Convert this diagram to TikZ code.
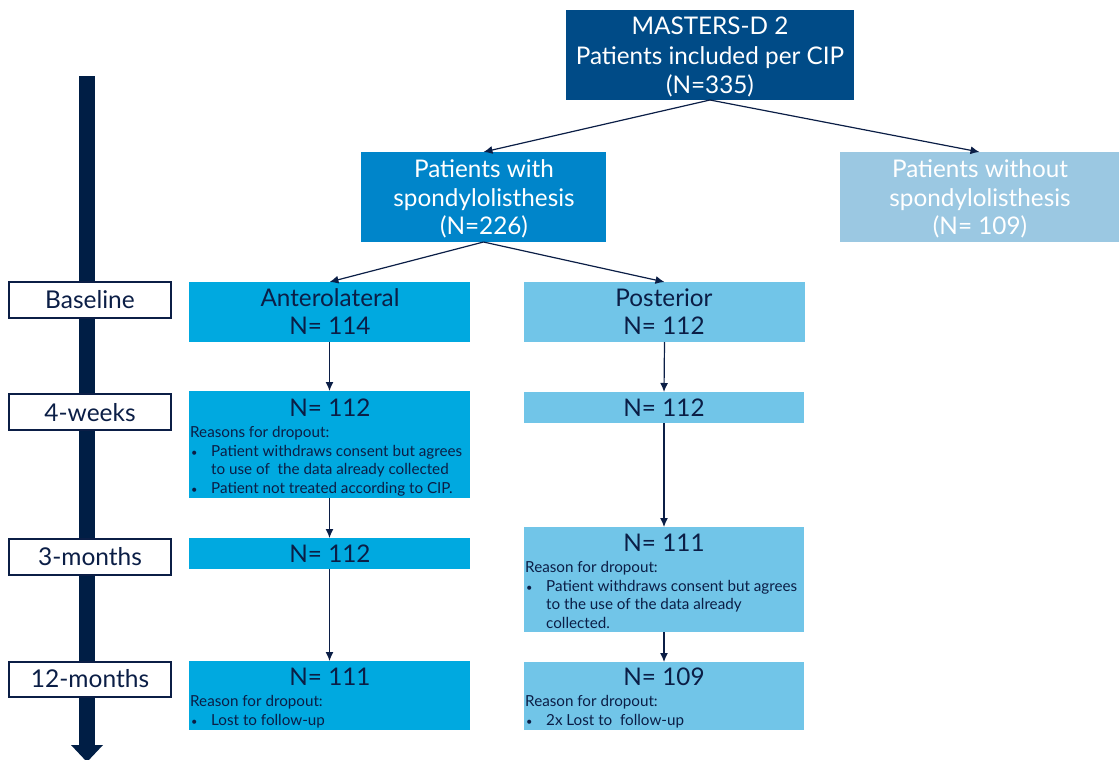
\documentclass[tikz,border=0pt]{standalone}
\usepackage{fontspec}
\setmainfont{Lato}
\usetikzlibrary{arrows.meta}
\definecolor{navy}{HTML}{0B1E46}
\definecolor{barnavy}{HTML}{001E45}
\definecolor{cA}{HTML}{004B87}
\definecolor{cB}{HTML}{0085CA}
\definecolor{cC}{HTML}{9BC8E2}
\definecolor{cD}{HTML}{00A9E0}
\definecolor{cE}{HTML}{71C5E8}
\tikzset{
  box/.style={rectangle, inner sep=0pt, outer sep=0pt, anchor=north west},
  lab/.style={box, draw=navy, line width=1.2pt, fill=white},
  big/.style={anchor=base, inner sep=0pt, font=\fontsize{24.3}{28}\selectfont},
  bigw/.style={big, text=white},
  bigd/.style={big, text=navy},
  labt/.style={anchor=base, inner sep=0pt, text=navy, font=\fontsize{24.5}{28}\selectfont},
  sm/.style={anchor=base west, inner sep=0pt, text=navy, font=\fontsize{15.2}{18}\selectfont},
  bul/.style={anchor=base west, inner sep=0pt, text=navy, font=\fontsize{11}{13}\selectfont},
  conn/.style={draw=navy, line width=1.2pt, -{Latex[length=9pt,width=8pt]}}
}
\begin{document}
\begin{tikzpicture}[x=1pt,y=-1pt]
\useasboundingbox (0,0) rectangle (1119,760);
% timeline
\coordinate (tltop) at (87,76);
\coordinate (tlbot) at (87,745);
\fill[barnavy] (79,76) rectangle (95,745);
\fill[barnavy] (71,745) -- (103,745) -- (87,762) -- cycle;
% boxes
\node[box, fill=cA, minimum width=288pt, minimum height=90pt] (top) at (566,10) {};
\node[box, fill=cB, minimum width=245pt, minimum height=90pt] (with) at (361,152) {};
\node[box, fill=cC, minimum width=279pt, minimum height=90pt] (without) at (840,152) {};
\node[box, fill=cD, minimum width=281pt, minimum height=60pt] (ant0) at (189,282) {};
\node[box, fill=cE, minimum width=281pt, minimum height=60pt] (post0) at (524,282) {};
\node[box, fill=cD, minimum width=281pt, minimum height=107pt] (ant1) at (189,391) {};
\node[box, fill=cE, minimum width=280pt, minimum height=31pt] (post1) at (524,392) {};
\node[box, fill=cD, minimum width=281pt, minimum height=31pt] (ant2) at (189,538) {};
\node[box, fill=cE, minimum width=280pt, minimum height=105pt] (post2) at (524,527) {};
\node[box, fill=cD, minimum width=281pt, minimum height=69pt] (ant3) at (189,661) {};
\node[box, fill=cE, minimum width=280pt, minimum height=68pt] (post3) at (524,662) {};
% labels
\node[lab, minimum width=162pt, minimum height=36pt] (lb0) at (9,282) {};
\node[lab, minimum width=162pt, minimum height=36pt] (lb1) at (9,394) {};
\node[lab, minimum width=162pt, minimum height=36pt] (lb2) at (9,539) {};
\node[lab, minimum width=162pt, minimum height=35pt] (lb3) at (9,662) {};
\node[labt] (lt0) at (90,308) {Baseline};
\node[labt] (lt1) at (90,421) {4-weeks};
\node[labt] (lt2) at (90,565) {3-months};
\node[labt] (lt3) at (90,687) {12-months};
% texts
\node[bigw] (t1) at (710,35) {MASTERS-D 2};
\node[bigw] (t2) at (710,64) {Patients included per CIP};
\node[bigw] (t3) at (710,93) {(N=335)};
\node[bigw] (w1) at (484,177) {Patients with};
\node[bigw] (w2) at (484,206) {spondylolisthesis};
\node[bigw] (w3) at (484,234) {(N=226)};
\node[bigw] (o1) at (980,177) {Patients without};
\node[bigw] (o2) at (980,206) {spondylolisthesis};
\node[bigw] (o3) at (980,234) {(N= 109)};
\node[bigd] (a0a) at (330,306) {Anterolateral};
\node[bigd] (a0b) at (330,334) {N= 114};
\node[bigd] (p0a) at (664,306) {Posterior};
\node[bigd] (p0b) at (664,334) {N= 112};
\node[bigd] (a1a) at (330,416) {N= 112};
\node[sm] (a1b) at (190,437) {Reasons for dropout:};
\node[bul] (a1c) at (191,456) {•};
\node[sm] (a1d) at (211,456) {Patient withdraws consent but agrees};
\node[sm] (a1e) at (211,474) {to use of\ \ the data already collected};
\node[bul] (a1f) at (191,493) {•};
\node[sm] (a1g) at (211,493) {Patient not treated according to CIP.};
\node[bigd] (p1a) at (664,416) {N= 112};
\node[bigd] (a2a) at (330,562) {N= 112};
\node[bigd] (p2a) at (664,551) {N= 111};
\node[sm] (p2b) at (525,572) {Reason for dropout:};
\node[bul] (p2c) at (526,591) {•};
\node[sm] (p2d) at (546,591) {Patient withdraws consent but agrees};
\node[sm] (p2e) at (546,609) {to the use of the data already};
\node[sm] (p2f) at (546,628) {collected.};
\node[bigd] (a3a) at (330,685) {N= 111};
\node[sm] (a3b) at (190,706) {Reason for dropout:};
\node[bul] (a3c) at (191,725) {•};
\node[sm] (a3d) at (211,725) {Lost to follow-up};
\node[bigd] (p3a) at (664,685) {N= 109};
\node[sm] (p3b) at (525,706) {Reason for dropout:};
\node[bul] (p3c) at (526,725) {•};
\node[sm] (p3d) at (546,725) {2x Lost to\ \ follow-up};
% connectors
\draw[conn] (top.south) -- (with.north);
\draw[conn] (top.south) -- (without.north);
\draw[conn] (with.south) -- (ant0.north);
\draw[conn] (with.south) -- (post0.north);
\draw[conn] (ant0.south) -- (ant1.north);
\draw[conn] (ant1.south) -- (ant2.north);
\draw[conn] (ant2.south) -- (ant3.north);
\draw[conn] (post0.south) -- (post1.north);
\draw[conn] (post1.south) -- (post2.north);
\draw[conn] (post2.south) -- (post3.north);
\end{tikzpicture}
\end{document}
